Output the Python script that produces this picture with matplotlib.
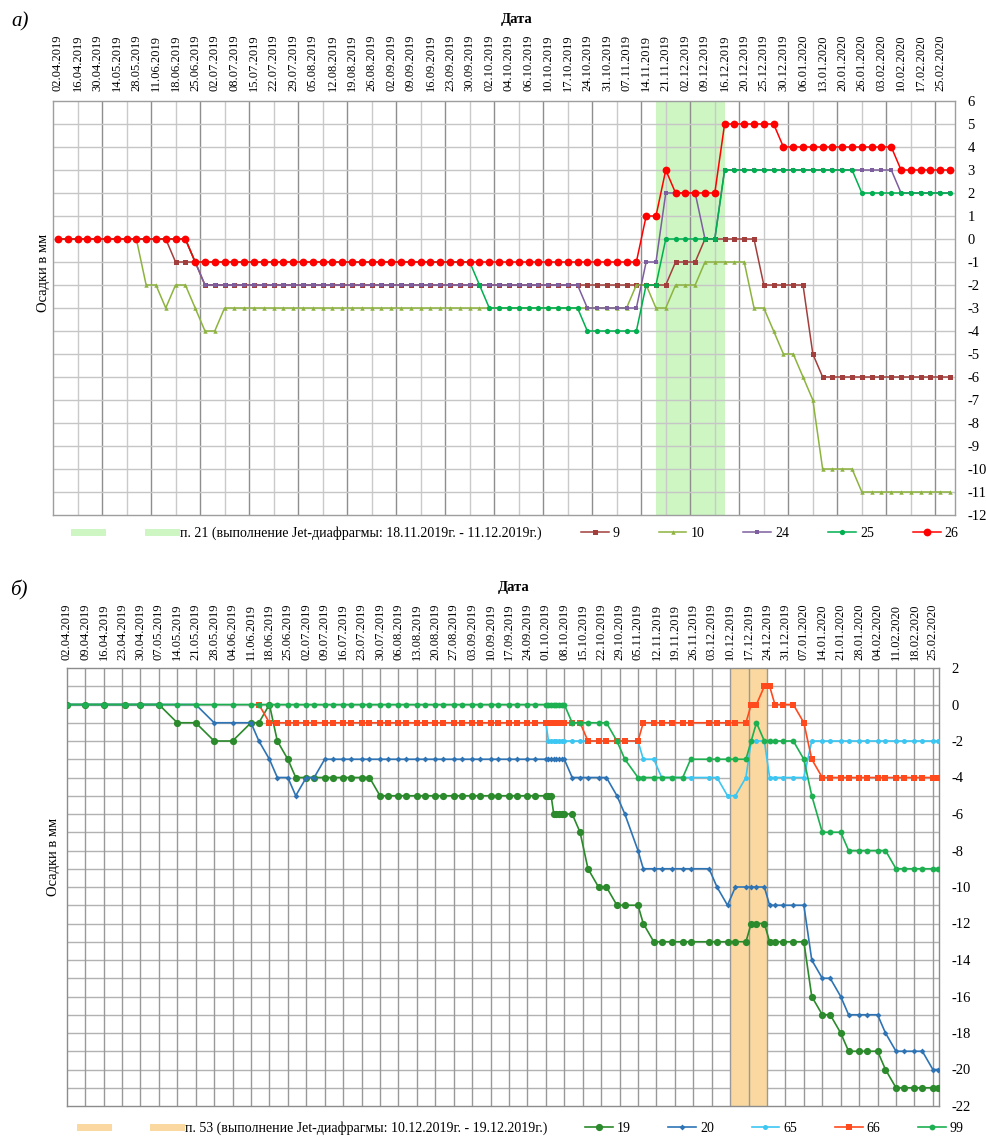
import datetime as dt

import numpy as np
import pandas as pd
import matplotlib
matplotlib.use("Agg")
import matplotlib.pyplot as plt
from matplotlib.lines import Line2D

plt.rcParams['font.family'] = ['Liberation Serif', 'DejaVu Serif']
plt.rcParams['axes.unicode_minus'] = False

# ---------------------------------------------------------------
# Panel а): settlement marks 9, 10, 24, 25, 26 (evenly spaced readings,
# every second reading carries a date label)
# ---------------------------------------------------------------
a_labels = [
    "02.04.2019", "16.04.2019", "30.04.2019", "14.05.2019", "28.05.2019",
    "11.06.2019", "18.06.2019", "25.06.2019", "02.07.2019", "08.07.2019",
    "15.07.2019", "22.07.2019", "29.07.2019", "05.08.2019", "12.08.2019",
    "19.08.2019", "26.08.2019", "02.09.2019", "09.09.2019", "16.09.2019",
    "23.09.2019", "30.09.2019", "02.10.2019", "04.10.2019", "06.10.2019",
    "10.10.2019", "17.10.2019", "24.10.2019", "31.10.2019", "07.11.2019",
    "14.11.2019", "21.11.2019", "02.12.2019", "09.12.2019", "16.12.2019",
    "20.12.2019", "25.12.2019", "30.12.2019", "06.01.2020", "13.01.2020",
    "20.01.2020", "26.01.2020", "03.02.2020", "10.02.2020", "17.02.2020",
    "25.02.2020",
]

a_s9 = [
    0, 0, 0, 0, 0, 0, 0, 0, 0, 0,
    0, 0, -1, -1, -1, -2, -2, -2, -2, -2,
    -2, -2, -2, -2, -2, -2, -2, -2, -2, -2,
    -2, -2, -2, -2, -2, -2, -2, -2, -2, -2,
    -2, -2, -2, -2, -2, -2, -2, -2, -2, -2,
    -2, -2, -2, -2, -2, -2, -2, -2, -2, -2,
    -2, -2, -2, -1, -1, -1, 0, 0, 0, 0,
    0, 0, -2, -2, -2, -2, -2, -5, -6, -6,
    -6, -6, -6, -6, -6, -6, -6, -6, -6, -6,
    -6, -6,
]
a_s10 = [
    0, 0, 0, 0, 0, 0, 0, 0, 0, -2,
    -2, -3, -2, -2, -3, -4, -4, -3, -3, -3,
    -3, -3, -3, -3, -3, -3, -3, -3, -3, -3,
    -3, -3, -3, -3, -3, -3, -3, -3, -3, -3,
    -3, -3, -3, -3, -3, -3, -3, -3, -3, -3,
    -3, -3, -3, -3, -3, -3, -3, -3, -3, -2,
    -2, -3, -3, -2, -2, -2, -1, -1, -1, -1,
    -1, -3, -3, -4, -5, -5, -6, -7, -10, -10,
    -10, -10, -11, -11, -11, -11, -11, -11, -11, -11,
    -11, -11,
]
a_s24 = [
    0, 0, 0, 0, 0, 0, 0, 0, 0, 0,
    0, 0, 0, 0, -1, -2, -2, -2, -2, -2,
    -2, -2, -2, -2, -2, -2, -2, -2, -2, -2,
    -2, -2, -2, -2, -2, -2, -2, -2, -2, -2,
    -2, -2, -2, -2, -2, -2, -2, -2, -2, -2,
    -2, -2, -2, -2, -3, -3, -3, -3, -3, -3,
    -1, -1, 2, 2, 2, 2, 0, 0, 3, 3,
    3, 3, 3, 3, 3, 3, 3, 3, 3, 3,
    3, 3, 3, 3, 3, 3, 2, 2, 2, 2,
    2, 2,
]
a_s25 = [
    0, 0, 0, 0, 0, 0, 0, 0, 0, 0,
    0, 0, 0, 0, -1, -1, -1, -1, -1, -1,
    -1, -1, -1, -1, -1, -1, -1, -1, -1, -1,
    -1, -1, -1, -1, -1, -1, -1, -1, -1, -1,
    -1, -1, -1, -2, -3, -3, -3, -3, -3, -3,
    -3, -3, -3, -3, -4, -4, -4, -4, -4, -4,
    -2, -2, 0, 0, 0, 0, 0, 0, 3, 3,
    3, 3, 3, 3, 3, 3, 3, 3, 3, 3,
    3, 3, 2, 2, 2, 2, 2, 2, 2, 2,
    2, 2,
]
a_s26 = [
    0, 0, 0, 0, 0, 0, 0, 0, 0, 0,
    0, 0, 0, 0, -1, -1, -1, -1, -1, -1,
    -1, -1, -1, -1, -1, -1, -1, -1, -1, -1,
    -1, -1, -1, -1, -1, -1, -1, -1, -1, -1,
    -1, -1, -1, -1, -1, -1, -1, -1, -1, -1,
    -1, -1, -1, -1, -1, -1, -1, -1, -1, -1,
    1, 1, 3, 2, 2, 2, 2, 2, 5, 5,
    5, 5, 5, 5, 4, 4, 4, 4, 4, 4,
    4, 4, 4, 4, 4, 4, 3, 3, 3, 3,
    3, 3,
]
a_band = (61, 68)   # reading positions bounding the jet-grouting period
a_band_text = "п. 21 (выполнение Jet-диафрагмы: 18.11.2019г. - 11.12.2019г.)"

# ---------------------------------------------------------------
# Panel б): settlement marks 19, 20, 65, 66, 99 on a calendar axis
# ---------------------------------------------------------------
b_dates = [
    "02.04.2019", "09.04.2019", "16.04.2019", "24.04.2019", "30.04.2019", "07.05.2019",
    "14.05.2019", "21.05.2019", "28.05.2019", "04.06.2019", "11.06.2019",
    "14.06.2019", "18.06.2019", "21.06.2019", "25.06.2019", "28.06.2019",
    "02.07.2019", "05.07.2019", "09.07.2019", "12.07.2019", "16.07.2019", "19.07.2019",
    "23.07.2019", "26.07.2019", "30.07.2019",
    "02.08.2019", "06.08.2019", "09.08.2019", "13.08.2019", "16.08.2019", "20.08.2019",
    "23.08.2019", "27.08.2019", "30.08.2019",
    "03.09.2019", "06.09.2019", "10.09.2019", "13.09.2019", "17.09.2019", "20.09.2019",
    "24.09.2019", "27.09.2019",
    "01.10.2019", "02.10.2019", "03.10.2019", "04.10.2019", "05.10.2019", "06.10.2019",
    "07.10.2019", "08.10.2019",
    "11.10.2019", "14.10.2019", "17.10.2019", "21.10.2019", "24.10.2019", "28.10.2019",
    "31.10.2019",
    "05.11.2019", "07.11.2019", "11.11.2019", "14.11.2019", "18.11.2019", "22.11.2019",
    "25.11.2019",
    "02.12.2019", "05.12.2019", "09.12.2019", "12.12.2019", "16.12.2019", "18.12.2019",
    "20.12.2019", "23.12.2019", "25.12.2019", "27.12.2019", "30.12.2019",
    "03.01.2020", "07.01.2020", "10.01.2020", "14.01.2020", "17.01.2020", "21.01.2020",
    "24.01.2020", "28.01.2020", "31.01.2020",
    "04.02.2020", "07.02.2020", "11.02.2020", "14.02.2020", "18.02.2020", "21.02.2020",
    "25.02.2020", "27.02.2020",
]

b_s19 = [
    0, 0, 0, 0, 0, 0, -1, -1, -2, -2, -1,
    -1, 0, -2, -3, -4,
    -4, -4, -4, -4, -4, -4, -4, -4, -5,
    -5, -5, -5, -5, -5, -5, -5, -5, -5,
    -5, -5, -5, -5, -5, -5, -5, -5,
    -5, -5, -5, -6, -6, -6, -6, -6,
    -6, -7, -9, -10, -10, -11, -11,
    -11, -12, -13, -13, -13, -13, -13,
    -13, -13, -13, -13, -13, -12, -12, -12, -13, -13, -13,
    -13, -13, -16, -17, -17, -18, -19, -19, -19,
    -19, -20, -21, -21, -21, -21, -21, -21,
]
b_s20 = [
    0, 0, 0, 0, 0, 0, 0, 0, -1, -1, -1,
    -2, -3, -4, -4, -5,
    -4, -4, -3, -3, -3, -3, -3, -3, -3,
    -3, -3, -3, -3, -3, -3, -3, -3, -3,
    -3, -3, -3, -3, -3, -3, -3, -3,
    -3, -3, -3, -3, -3, -3, -3, -3,
    -4, -4, -4, -4, -4, -5, -6,
    -8, -9, -9, -9, -9, -9, -9,
    -9, -10, -11, -10, -10, -10, -10, -10, -11, -11, -11,
    -11, -11, -14, -15, -15, -16, -17, -17, -17,
    -17, -18, -19, -19, -19, -19, -20, -20,
]
b_s65 = [
    None, None, None, None, None, None, None, None, None, None, None,
    None, None, None, None, None,
    None, None, None, None, None, None, None, None, None,
    None, None, None, None, None, None, None, None, None,
    None, None, None, None, None, None, None, None,
    -1, -2, -2, -2, -2, -2, -2, -2,
    -2, -2, -2, -2, -2, -2, -2,
    -2, -3, -3, -4, -4, -4, -4,
    -4, -4, -5, -5, -4, -2, -2, -2, -4, -4, -4,
    -4, -4, -2, -2, -2, -2, -2, -2, -2,
    -2, -2, -2, -2, -2, -2, -2, -2,
]
b_s66 = [
    None, None, None, None, None, None, None, None, None, None, None,
    0, -1, -1, -1, -1,
    -1, -1, -1, -1, -1, -1, -1, -1, -1,
    -1, -1, -1, -1, -1, -1, -1, -1, -1,
    -1, -1, -1, -1, -1, -1, -1, -1,
    -1, -1, -1, -1, -1, -1, -1, -1,
    -1, -1, -2, -2, -2, -2, -2,
    -2, -1, -1, -1, -1, -1, -1,
    -1, -1, -1, -1, -1, 0, 0, 1, 1, 0, 0,
    0, -1, -3, -4, -4, -4, -4, -4, -4,
    -4, -4, -4, -4, -4, -4, -4, -4,
]
b_s99 = [
    0, 0, 0, 0, 0, 0, 0, 0, 0, 0, 0,
    0, 0, 0, 0, 0,
    0, 0, 0, 0, 0, 0, 0, 0, 0,
    0, 0, 0, 0, 0, 0, 0, 0, 0,
    0, 0, 0, 0, 0, 0, 0, 0,
    0, 0, 0, 0, 0, 0, 0, 0,
    -1, -1, -1, -1, -1, -2, -3,
    -4, -4, -4, -4, -4, -4, -3,
    -3, -3, -3, -3, -3, -2, -1, -2, -2, -2, -2,
    -2, -3, -5, -7, -7, -7, -8, -8, -8,
    -8, -8, -9, -9, -9, -9, -9, -9,
]
b_band = ("10.12.2019", "24.12.2019")
b_band_text = "п. 53 (выполнение Jet-диафрагмы: 10.12.2019г. - 19.12.2019г.)"


def parse(s):
    return dt.datetime.strptime(s, "%d.%m.%Y")


# ---------------------------------------------------------------
# Figure layout (pixel based)
# ---------------------------------------------------------------
W, H = 987, 1140
fig = plt.figure(figsize=(W / 100, H / 100), dpi=100)


def rect(l, t, r, b):
    return [l / W, 1 - b / H, (r - l) / W, (b - t) / H]


def fx(px):
    return px / W


def fy(py):
    return 1 - py / H


TXT = dict(fontsize=10.5)

# ======================= panel а) =======================
axa = fig.add_axes(rect(53, 101, 955, 515))
xa = np.arange(len(a_s26))
axa.set_xlim(-0.5, len(xa) - 0.5)
axa.set_ylim(-12, 6)

band_a_col = '#CDF6C3'
axa.axvspan(a_band[0], a_band[1], color=band_a_col, lw=0, zorder=0.5)
for k in range(1, 37):
    axa.axvline(-0.5 + 2.5 * k, color='#8E8E8E' if k % 2 == 0 else '#CACACA',
                lw=1.0, zorder=1)
for y in range(-11, 6):
    axa.axhline(y, color='#C6C6C6', lw=1.0, zorder=1)

a_styles = [
    ("9", a_s9, dict(color='#A23F3C', marker='s', ms=3.6)),
    ("10", a_s10, dict(color='#8DB33F', marker='^', ms=3.2)),
    ("24", a_s24, dict(color='#7D5E9E', marker='s', ms=2.8)),
    ("25", a_s25, dict(color='#00B050', marker='o', ms=3.8)),
    ("26", a_s26, dict(color='#FF0000', marker='o', ms=5.6)),
]
a_handles = []
for i, (name, vals, st) in enumerate(a_styles):
    ln, = axa.plot(xa, vals, lw=1.1, zorder=3 + i, label=name,
                   markeredgewidth=0, **st)
    a_handles.append(ln)

axa.xaxis.tick_top()
axa.set_xticks(np.arange(0, len(xa), 2))
axa.set_xticklabels(a_labels, rotation=90, fontsize=9)
axa.tick_params(axis='x', length=0, pad=7)
axa.yaxis.tick_right()
axa.set_yticks(range(-12, 7))
axa.tick_params(axis='y', length=0, pad=9, labelsize=10.5)
for sp in axa.spines.values():
    sp.set_color('#9E9E9E')
    sp.set_linewidth(1.0)

fig.text(fx(517), fy(20), "Дата", ha='center', va='center',
         fontsize=10.5, fontweight='bold')
fig.text(fx(20), fy(22), "а)", ha='center', va='center',
         fontsize=15, style='italic')
fig.text(fx(44), fy(273), "Осадки в мм", ha='center', va='center',
         rotation=90, **TXT)

band_a_handle = Line2D([], [], color=band_a_col, lw=5)
fig.legend([band_a_handle, band_a_handle] + a_handles,
           [" ", a_band_text] + [h.get_label() for h in a_handles],
           loc='center left', bbox_to_anchor=(fx(74), fy(533)),
           ncol=7, frameon=False, fontsize=10, handlelength=2.0,
           handletextpad=0.3, columnspacing=2.8, borderpad=0,
           borderaxespad=0)

# ======================= panel б) =======================
axb = fig.add_axes(rect(66.7, 668, 939, 1106))
xb = [parse(s) for s in b_dates]
axb.set_xlim(parse("02.04.2019"), parse("27.02.2020") + dt.timedelta(hours=8))
axb.set_ylim(-22, 2)

weeks = pd.date_range(parse("02.04.2019"), parse("25.02.2020"), freq='7D')
band_b_col = '#FAD89F'
for y in range(-21, 2):
    axb.axhline(y, color='#B2B2B2', lw=1.0, zorder=1)
axb.axvspan(parse(b_band[0]), parse(b_band[1]), color=band_b_col, lw=0, zorder=1.5)
for w in weeks[1:]:
    axb.axvline(w, color='#999999', lw=1.0, zorder=1.6)

b_styles = [
    ("19", b_s19, dict(color='#2B8A2B', marker='o', ms=5.2)),
    ("20", b_s20, dict(color='#2E74B5', marker='D', ms=3.0)),
    ("65", b_s65, dict(color='#3CC6F2', marker='o', ms=3.6)),
    ("66", b_s66, dict(color='#FF4A1E', marker='s', ms=4.2)),
    ("99", b_s99, dict(color='#1CB050', marker='o', ms=4.2)),
]
b_handles = []
for i, (name, vals, st) in enumerate(b_styles):
    ln, = axb.plot(xb, np.array(vals, dtype=float), lw=1.2, zorder=3 + i,
                   label=name, markeredgewidth=0, **st)
    b_handles.append(ln)

axb.xaxis.tick_top()
axb.set_xticks(list(weeks))
axb.set_xticklabels([w.strftime("%d.%m.%Y") for w in weeks], rotation=90, fontsize=9)
axb.tick_params(axis='x', length=0, pad=6)
axb.yaxis.tick_right()
axb.set_yticks(range(-22, 3, 2))
axb.tick_params(axis='y', length=0, pad=9, labelsize=10.5)
for sp in axb.spines.values():
    sp.set_color('#8C8C8C')
    sp.set_linewidth(1.0)

fig.text(fx(514), fy(588), "Дата", ha='center', va='center',
         fontsize=10.5, fontweight='bold')
fig.text(fx(19), fy(590), "б)", ha='center', va='center',
         fontsize=15, style='italic')
fig.text(fx(54), fy(857), "Осадки в мм", ha='center', va='center',
         rotation=90, **TXT)

band_b_handle = Line2D([], [], color=band_b_col, lw=5)
fig.legend([band_b_handle, band_b_handle] + b_handles,
           [" ", b_band_text] + [h.get_label() for h in b_handles],
           loc='center left', bbox_to_anchor=(fx(80), fy(1128)),
           ncol=7, frameon=False, fontsize=10, handlelength=2.0,
           handletextpad=0.3, columnspacing=2.7, borderpad=0,
           borderaxespad=0)

fig.savefig("out.png", dpi=100, facecolor='white')
